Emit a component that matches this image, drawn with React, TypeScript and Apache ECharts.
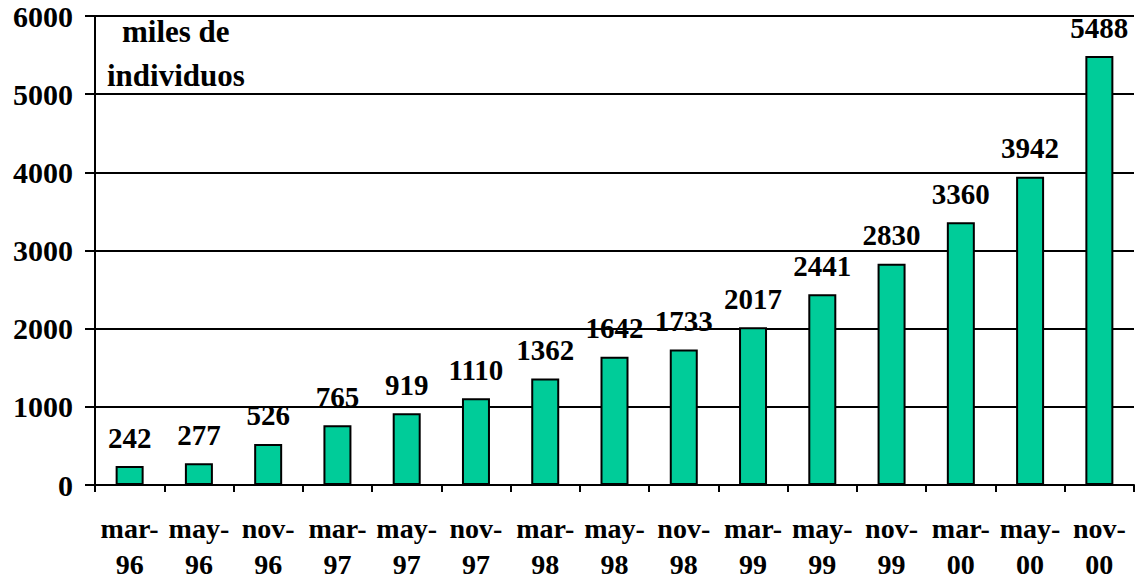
import React, { useEffect, useRef } from "react";
import * as echarts from "echarts";

const categories = ["mar-\n96", "may-\n96", "nov-\n96", "mar-\n97", "may-\n97", "nov-\n97", "mar-\n98", "may-\n98", "nov-\n98", "mar-\n99", "may-\n99", "nov-\n99", "mar-\n00", "may-\n00", "nov-\n00"];
const values = [242, 277, 526, 765, 919, 1110, 1362, 1642, 1733, 2017, 2441, 2830, 3360, 3942, 5488];
const unitLine1 = "miles de";
const unitLine2 = "individuos";

const FONT = "Liberation Serif";

export default function App() {
  const ref = useRef<HTMLDivElement>(null);
  useEffect(() => {
    document.body.style.margin = "0";
    const chart = echarts.init(ref.current!, undefined, { renderer: "svg" });
    chart.setOption({
      animation: false,
      backgroundColor: "#ffffff",
      textStyle: { fontFamily: FONT },
      grid: { left: 95, right: 2, top: 16, bottom: 92, containLabel: false },
      xAxis: {
        type: "category",
        data: categories,
        axisLine: { lineStyle: { color: "#000", width: 2 } },
        axisTick: { show: true, interval: 0, length: 7, lineStyle: { color: "#000", width: 2 } },
        axisLabel: {
          interval: 0,
          margin: 25,
          color: "#000",
          fontFamily: FONT,
          fontWeight: "bold",
          fontSize: 28,
          lineHeight: 36,
        },
      },
      yAxis: {
        type: "value",
        min: 0,
        max: 6000,
        interval: 1000,
        axisLine: { show: true, lineStyle: { color: "#000", width: 2 } },
        axisTick: { show: true, length: 10, lineStyle: { color: "#000", width: 2 } },
        splitLine: { show: true, lineStyle: { color: "#000", width: 2 } },
        axisLabel: {
          margin: 22,
          color: "#000",
          fontFamily: FONT,
          fontWeight: "bold",
          fontSize: 30,
          padding: [8, 0, 0, 0],
          formatter: (v: number) => String(v),
        },
      },
      series: [
        {
          type: "bar",
          data: values,
          barWidth: 28,
          itemStyle: { color: "#00CC99", borderColor: "#000", borderWidth: 2 },
          label: {
            show: true,
            position: "top",
            distance: 14,
            color: "#000",
            fontFamily: FONT,
            fontWeight: "bold",
            fontSize: 29,
          },
        },
      ],
      graphic: [
        {
          type: "text",
          left: 122,
          top: 16,
          style: { text: unitLine1, fill: "#000", fontFamily: FONT, fontWeight: "bold", fontSize: 31 },
        },
        {
          type: "text",
          left: 107,
          top: 60,
          style: { text: unitLine2, fill: "#000", fontFamily: FONT, fontWeight: "bold", fontSize: 31 },
        },
      ],
    });
    return () => chart.dispose();
  }, []);
  return <div ref={ref} style={{ width: 1136, height: 582 }} />;
}
